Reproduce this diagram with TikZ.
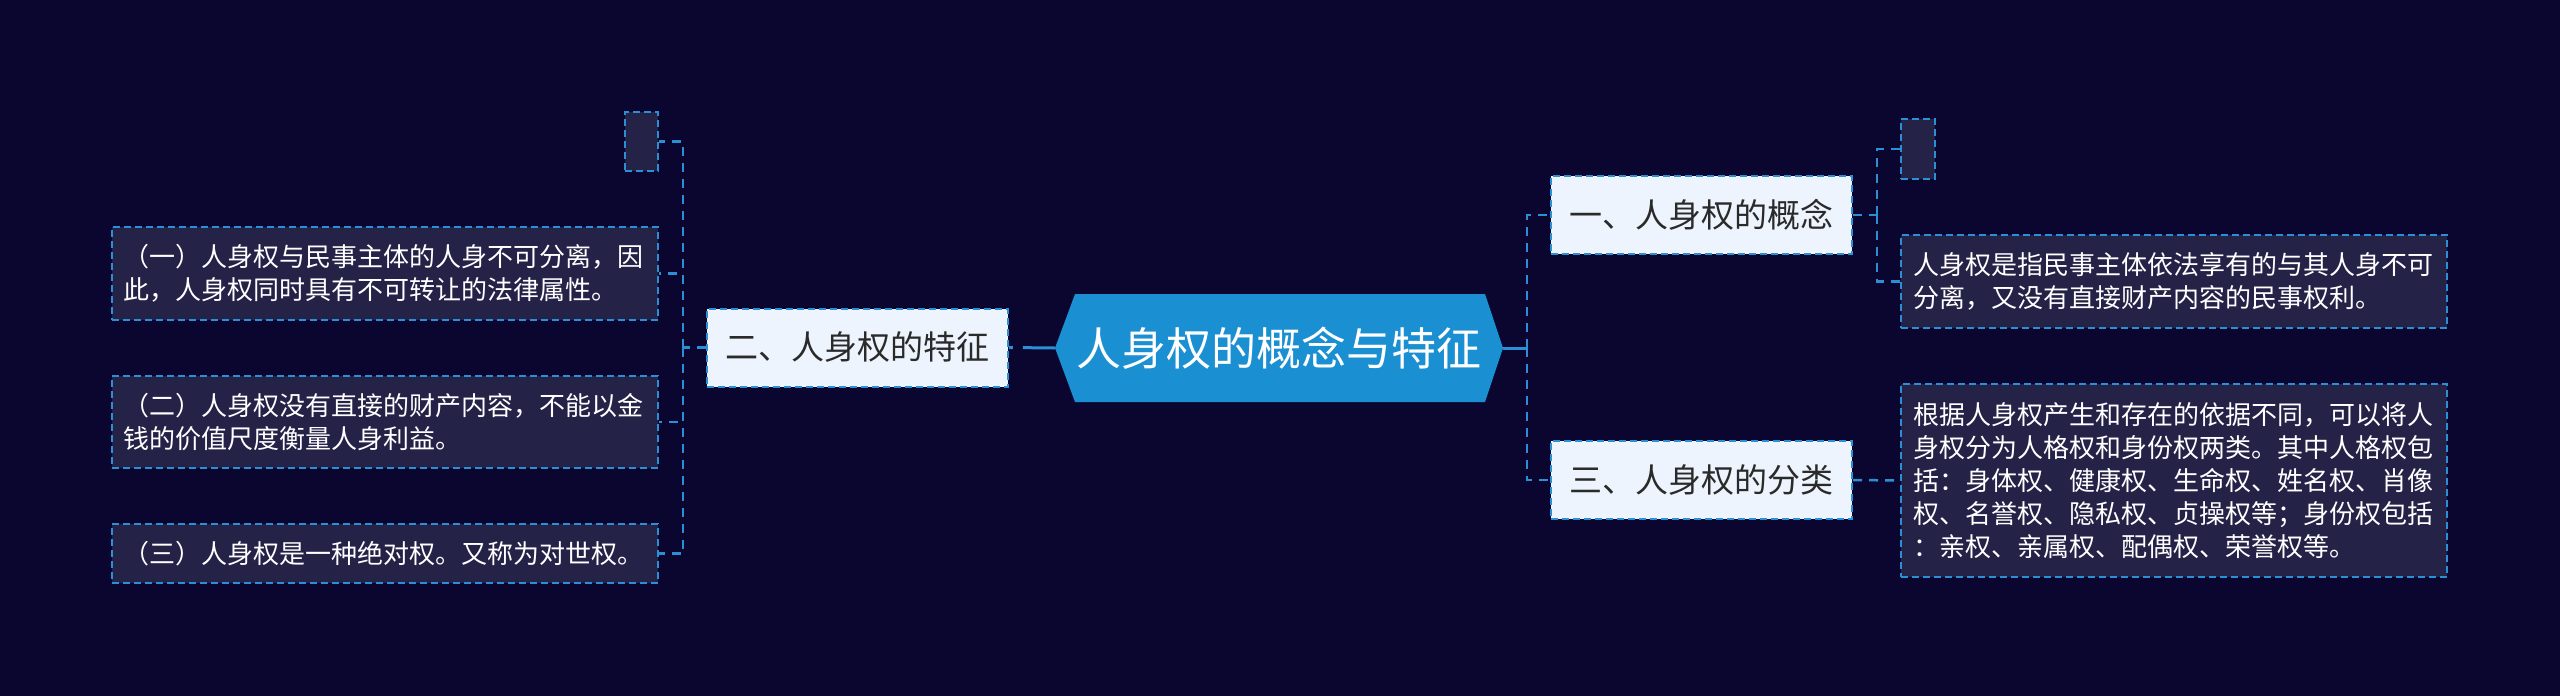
\documentclass[tikz,border=0pt]{standalone}
\usepackage{fontspec}
\setmainfont{Noto Sans CJK SC}
\usetikzlibrary{positioning}
\definecolor{bgc}{HTML}{0A0630}
\definecolor{leaffill}{HTML}{252248}
\definecolor{lvfill}{HTML}{EEF4FD}
\definecolor{rootfill}{HTML}{1A8FD2}
\definecolor{linec}{HTML}{2B8FD5}
\definecolor{darktext}{HTML}{2A2A2A}
\tikzset{
  lvbox/.style={draw=linec, fill=lvfill, line width=2pt, dash pattern=on 7pt off 4pt,
    minimum width=301pt, minimum height=78pt, inner sep=0pt,
    font=\fontsize{33pt}{38pt}\selectfont, text=darktext},
  leafbox/.style={draw=linec, fill=leaffill, line width=2pt, dash pattern=on 7pt off 4pt,
    inner xsep=12pt, inner ysep=0pt, text width=522pt, align=left,
    font=\fontsize{26pt}{33pt}\selectfont, text=white},
  emptybox/.style={draw=linec, fill=leaffill, line width=2pt, dash pattern=on 7pt off 4pt,
    inner sep=0pt},
  conn/.style={draw=linec, line width=2.5pt, dash pattern=on 9pt off 7pt},
  mainconn/.style={draw=linec, line width=3pt},
}
\begin{document}
\begin{tikzpicture}[x=1pt,y=-1pt]
\fill[bgc] (0,0) rectangle (2560,696);
\useasboundingbox (0,0) rectangle (2560,696);
% root
\fill[rootfill] (1055,348) -- (1075,294) -- (1485,294) -- (1503,348) -- (1485,402) -- (1075,402) -- cycle;
\node[minimum width=448pt, minimum height=108pt, inner sep=0pt, text=white,
  font=\fontsize{45pt}{50pt}\selectfont] (root) at (1279,348) {人身权的概念与特征};
% level 1
\node[lvbox] (n1) at (1701.5,215) {一、人身权的概念};
\node[lvbox] (n2) at (857.5,347.5) {二、人身权的特征};
\node[lvbox] (n3) at (1701.5,480) {三、人身权的分类};
% right leaves
\node[emptybox, minimum width=34pt, minimum height=60pt] (e1) at (1918,149) {};
\node[leafbox, minimum height=93pt] (d1) at (2174,281.5) {人身权是指民事主体依法享有的与其人身不可\\分离，又没有直接财产内容的民事权利。};
\node[leafbox, minimum height=193pt] (c1) at (2174,480.5) {根据人身权产生和存在的依据不同，可以将人\\身权分为人格权和身份权两类。其中人格权包\\括：身体权、健康权、生命权、姓名权、肖像\\权、名誉权、隐私权、贞操权等；身份权包括\\：亲权、亲属权、配偶权、荣誉权等。};
% left leaves
\node[emptybox, minimum width=33pt, minimum height=59pt] (e2) at (641.5,141.5) {};
\node[leafbox, minimum height=93pt] (l1) at (384.5,273.5) {（一）人身权与民事主体的人身不可分离，因\\此，人身权同时具有不可转让的法律属性。};
\node[leafbox, minimum height=92pt] (l2) at (384.5,422) {（二）人身权没有直接的财产内容，不能以金\\钱的价值尺度衡量人身利益。};
\node[leafbox, minimum height=59pt] (l3) at (384.5,553.5) {（三）人身权是一种绝对权。又称为对世权。};
% junctions
\coordinate (rj) at (1527,348);
\coordinate (j1) at (1877,215);
\coordinate (j2) at (683,347.5);
% connectors
\draw[mainconn, dash pattern=on 32pt off 10pt] (root.west) -- (n2.east);
\draw[mainconn] (root.east) -- (rj);
\draw[conn] (rj) |- (n1.west);
\draw[conn] (rj) |- (n3.west);
\draw[conn] (n1.east) -- (j1);
\draw[conn] (j1) |- (e1.west);
\draw[conn] (j1) |- (d1.west);
\draw[conn] (n3.east) -- (c1.west);
\draw[conn] (n2.west) -- (j2);
\draw[conn] (j2) |- (e2.east);
\draw[conn] (j2) |- (l1.east);
\draw[conn] (j2) |- (l2.east);
\draw[conn] (j2) |- (l3.east);
\end{tikzpicture}
\end{document}
